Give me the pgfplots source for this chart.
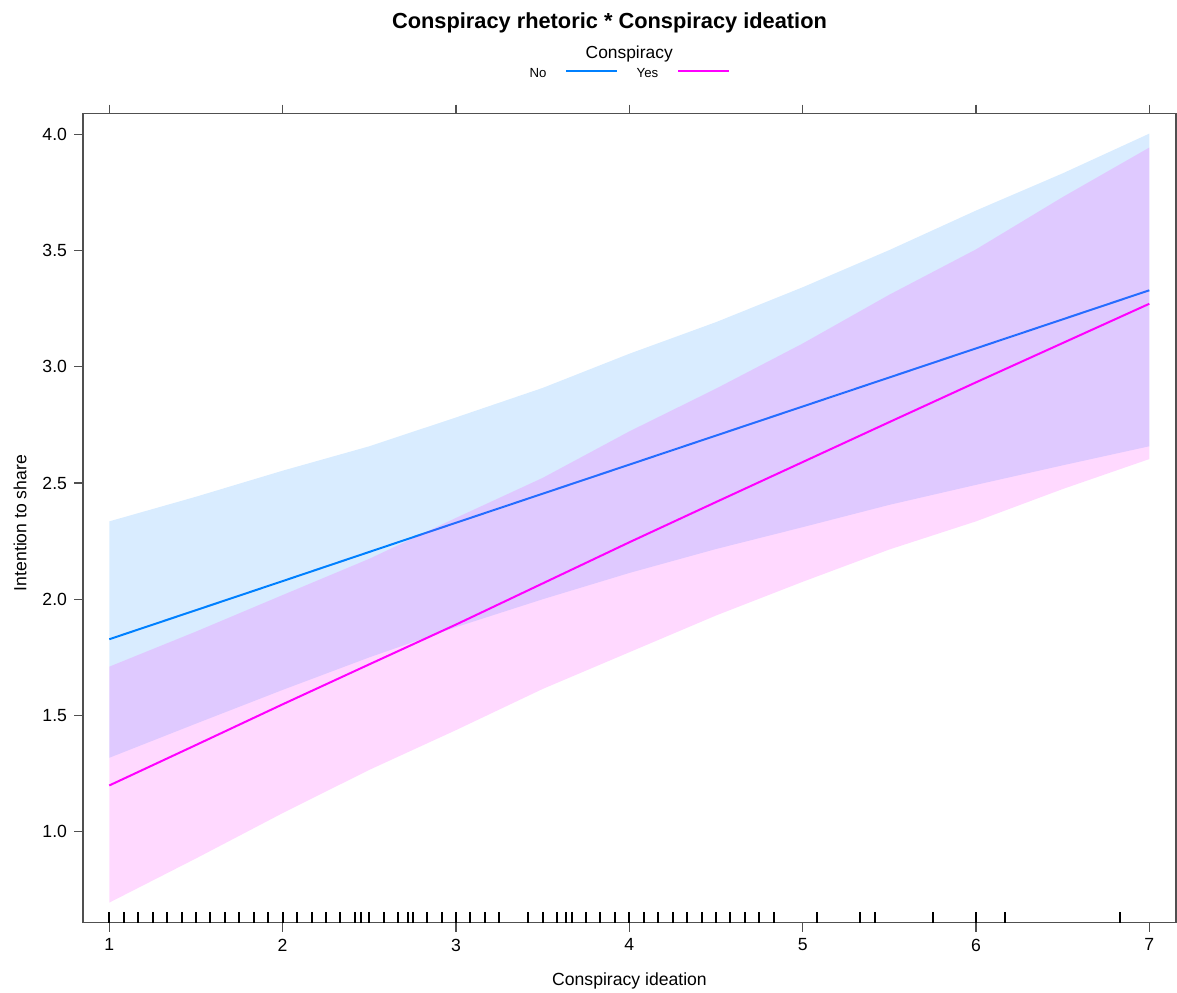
\documentclass[border=0pt]{standalone}
\usepackage{pgfplots}
\pgfplotsset{compat=1.18}
\usepackage{fontspec}
\setmainfont{Liberation Sans}
\definecolor{cblue}{HTML}{0080FF}
\definecolor{cpink}{HTML}{FF00FF}
\definecolor{axgray}{HTML}{505050}
\pgfdeclareplotmark{rug}{\pgfpathmoveto{\pgfqpoint{0pt}{0pt}}\pgfpathlineto{\pgfqpoint{0pt}{5.5pt}}\pgfusepathqstroke}
\begin{document}
\begin{tikzpicture}
\useasboundingbox (0,0) rectangle (588.5pt,496pt);
\begin{axis}[
  scale only axis, width=546.5pt, height=404.5pt,
  at={(41.5pt,34.65pt)}, anchor=south west,
  xmin=0.8483, xmax=7.154, ymin=0.6086, ymax=4.0886,
  xtick={1,2,3,4,5,6,7}, ytick={1,1.5,2,2.5,3,3.5,4},
  tick pos=both, tick align=outside,
  xticklabel pos=lower, yticklabel pos=left,
  major tick length=4.5pt,
  axis line style={axgray, line width=0.6pt},
  every tick/.style={axgray, line width=0.6pt},
  every tick label/.append style={font=\fontsize{8.8}{10}\selectfont, text=black},
  /pgf/number format/assume math mode=true,
  yticklabel style={/pgf/number format/.cd, fixed, fixed zerofill, precision=1},
  xticklabel style={/pgf/number format/.cd, fixed, precision=0},
  scaled ticks=false,
]
% Conspiracy = No : band
\addplot[draw=none, fill=cblue, fill opacity=0.15] coordinates {
 (1,2.335) (1.5,2.441) (2,2.553) (2.5,2.658) (3,2.782) (3.5,2.909) (4,3.056)
 (4.5,3.192) (5,3.342) (5.5,3.502) (6,3.672) (6.5,3.832) (7,4.003)
 (7,2.658) (6.5,2.576) (6,2.492) (5.5,2.406) (5,2.310) (4.5,2.216) (4,2.113)
 (3.5,2.000) (3,1.880) (2.5,1.750) (2,1.610) (1.5,1.465) (1,1.318)
} -- cycle;
% Conspiracy = No : fit
\addplot[cblue, line width=1pt] coordinates {
 (1,1.828) (2,2.078) (3,2.329) (4,2.579) (5,2.829) (6,3.079) (7,3.329)
};
% Conspiracy = Yes : band
\addplot[draw=none, fill=cpink, fill opacity=0.15] coordinates {
 (1,1.710) (1.5,1.861) (2,2.018) (2.5,2.174) (3,2.350) (3.5,2.522) (4,2.722)
 (4.5,2.906) (5,3.100) (5.5,3.310) (6,3.505) (6.5,3.730) (7,3.943)
 (7,2.603) (6.5,2.474) (6,2.335) (5.5,2.214) (5,2.075) (4.5,1.930) (4,1.772)
 (3.5,1.614) (3,1.437) (2.5,1.266) (2,1.080) (1.5,0.885) (1,0.695)
} -- cycle;
% Conspiracy = Yes : fit
\addplot[cpink, line width=1pt] coordinates {
 (1,1.199) (1.5,1.373) (2,1.548) (2.5,1.720) (3,1.891) (3.5,2.068) (4,2.245)
 (4.5,2.418) (5,2.590) (5.5,2.762) (6,2.933) (6.5,3.102) (7,3.271)
};
% rug
\addplot[only marks, mark=rug, mark options={black, line width=1pt}] coordinates {
 (1,0.6086) (1.0833,0.6086) (1.1667,0.6086) (1.25,0.6086) (1.3333,0.6086) (1.4167,0.6086)
 (1.5,0.6086) (1.5833,0.6086) (1.6667,0.6086) (1.75,0.6086) (1.8333,0.6086) (1.9167,0.6086)
 (2,0.6086) (2.0833,0.6086) (2.1667,0.6086) (2.25,0.6086) (2.3333,0.6086) (2.4167,0.6086)
 (2.45,0.6086) (2.5,0.6086) (2.5833,0.6086) (2.6667,0.6086) (2.725,0.6086) (2.75,0.6086)
 (2.8333,0.6086) (2.9167,0.6086) (3,0.6086) (3.0833,0.6086) (3.1667,0.6086) (3.25,0.6086)
 (3.4167,0.6086) (3.5,0.6086) (3.5833,0.6086) (3.636,0.6086) (3.6667,0.6086) (3.75,0.6086)
 (3.8333,0.6086) (3.9167,0.6086) (4,0.6086) (4.0833,0.6086) (4.1667,0.6086) (4.25,0.6086)
 (4.3333,0.6086) (4.4167,0.6086) (4.5,0.6086) (4.5833,0.6086) (4.6667,0.6086) (4.75,0.6086)
 (4.8333,0.6086) (5.0833,0.6086) (5.3333,0.6086) (5.4167,0.6086) (5.75,0.6086) (6,0.6086)
 (6.1667,0.6086) (6.8333,0.6086)
};
\end{axis}
% titles and labels
\node[anchor=base, inner sep=0pt, font=\fontsize{10.9}{12}\selectfont\bfseries] at (304.75pt,481.85pt) {Conspiracy rhetoric * Conspiracy ideation};
\node[anchor=base, inner sep=0pt, font=\fontsize{8.7}{10}\selectfont] at (314.6pt,466.85pt) {Conspiracy};
\node[anchor=base, inner sep=0pt, font=\fontsize{6.6}{8}\selectfont] at (269pt,457.35pt) {No};
\draw[cblue, line width=1pt] (283pt,460.5pt) -- (308.5pt,460.5pt);
\node[anchor=base, inner sep=0pt, font=\fontsize{6.6}{8}\selectfont] at (323.75pt,457.35pt) {Yes};
\draw[cpink, line width=1pt] (339pt,460.5pt) -- (364.65pt,460.5pt);
\node[anchor=base, inner sep=0pt, font=\fontsize{8.8}{10}\selectfont] at (314.75pt,3.2pt) {Conspiracy ideation};
\node[anchor=center, inner sep=0pt, rotate=90, font=\fontsize{8.8}{10}\selectfont] at (10pt,234.5pt) {Intention to share};
\end{tikzpicture}
\end{document}
